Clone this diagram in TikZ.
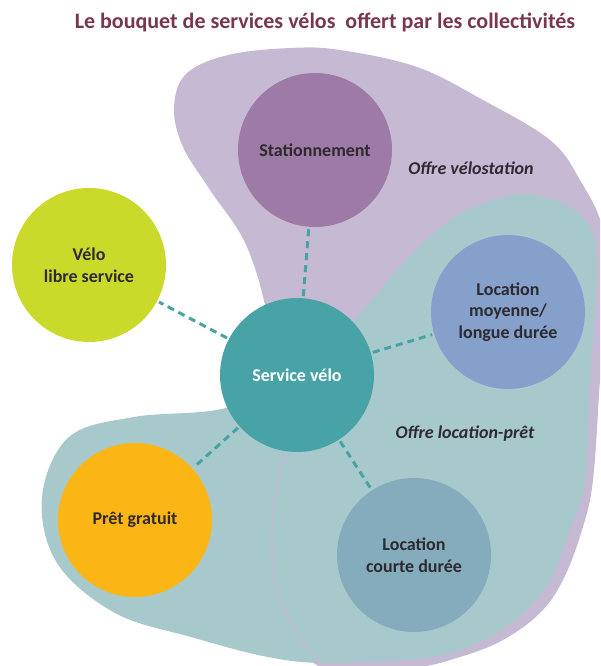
\documentclass[tikz,border=0pt]{standalone}
\usepackage{fontspec}
\setmainfont{Carlito}
\usepackage{tikz}
\usetikzlibrary{positioning}
\definecolor{velostation}{HTML}{C6B9D4}
\definecolor{locpret}{HTML}{A8C9CB}
\definecolor{statcol}{HTML}{9E7AA6}
\definecolor{lscol}{HTML}{C9DA2B}
\definecolor{servcol}{HTML}{48A3A7}
\definecolor{longcol}{HTML}{84A0CB}
\definecolor{pretcol}{HTML}{FBB515}
\definecolor{courtcol}{HTML}{85ACBC}
\definecolor{titlecol}{HTML}{7A3650}
\definecolor{txtcol}{HTML}{2E2A30}
\tikzset{
  service/.style={circle,minimum size=154pt,inner sep=0pt,align=center,
    font=\fontsize{18}{21.5}\selectfont\bfseries,text=txtcol},
  link/.style={draw=servcol,line width=3pt,dash pattern=on 7pt off 5pt,shorten >=2pt,shorten <=2pt},
  offre/.style={font=\fontsize{18}{21.5}\selectfont\bfseries\itshape,text=txtcol}
}
\begin{document}
\begin{tikzpicture}[x=1pt,y=-1pt]
\useasboundingbox (0,0) rectangle (600,666);
\clip (0,0) rectangle (600,666);
%draw the two offers
    \fill[velostation] plot[smooth cycle,tension=0.6] coordinates {
      (285,453) (270,330) (247,247) (210,190) (183,147) (174,108) (186,74)
      (228,55) (290,48) (340,50) (417,67) (483,100) (550,140) (580,180) (603,230)
      (606,300) (600,380) (593,480) (582,530) (563,580) (540,613) (503,640)
      (460,657) (410,668) (324,668) (302,640) (279,597) (272,547) (276,497)};
    \fill[locpret] plot[smooth cycle,tension=0.6] coordinates {
      (226,408) (300,375) (357,317) (400,267) (450,220) (500,198) (533,195)
      (570,207) (593,235) (596,290) (590,380) (585,480) (570,530) (550,580)
      (523,613) (483,640) (433,657) (330,663) (268,657) (191,637) (115,613)
      (57,563) (42,497) (69,437) (134,417)};
    \draw[velostation,line width=1.5pt] plot[smooth,tension=0.6] coordinates {
      (285,453) (276,497) (272,547) (279,597) (302,640) (324,666)};
%draw services
    \node[service,fill=statcol] (stat) at (315,150) {Stationnement};
    \node[service,fill=lscol] (libre) at (89,265) {Vélo\\libre service};
    \node[service,fill=servcol,text=white] (serv) at (297,375) {Service vélo};
    \node[service,fill=longcol] (longue) at (508,312) {Location\\moyenne/\\longue durée};
    \node[service,fill=pretcol] (pret) at (135,520) {Prêt gratuit};
    \node[service,fill=courtcol] (courte) at (414,555) {Location\\courte durée};
%draw links
    \foreach \s in {stat,libre,longue,pret,courte}
       \draw[link] (serv) -- (\s);
%insert labels
    \node[offre] (ovelo) at (471,168) {Offre vélostation};
    \node[offre] (oloc) at (465,434) {Offre location-prêt};
    \node[font=\fontsize{22}{26}\selectfont\bfseries,text=titlecol] (title) at (325,22)
       {Le bouquet de services vélos \ offert par les collectivités};
\end{tikzpicture}
\end{document}
